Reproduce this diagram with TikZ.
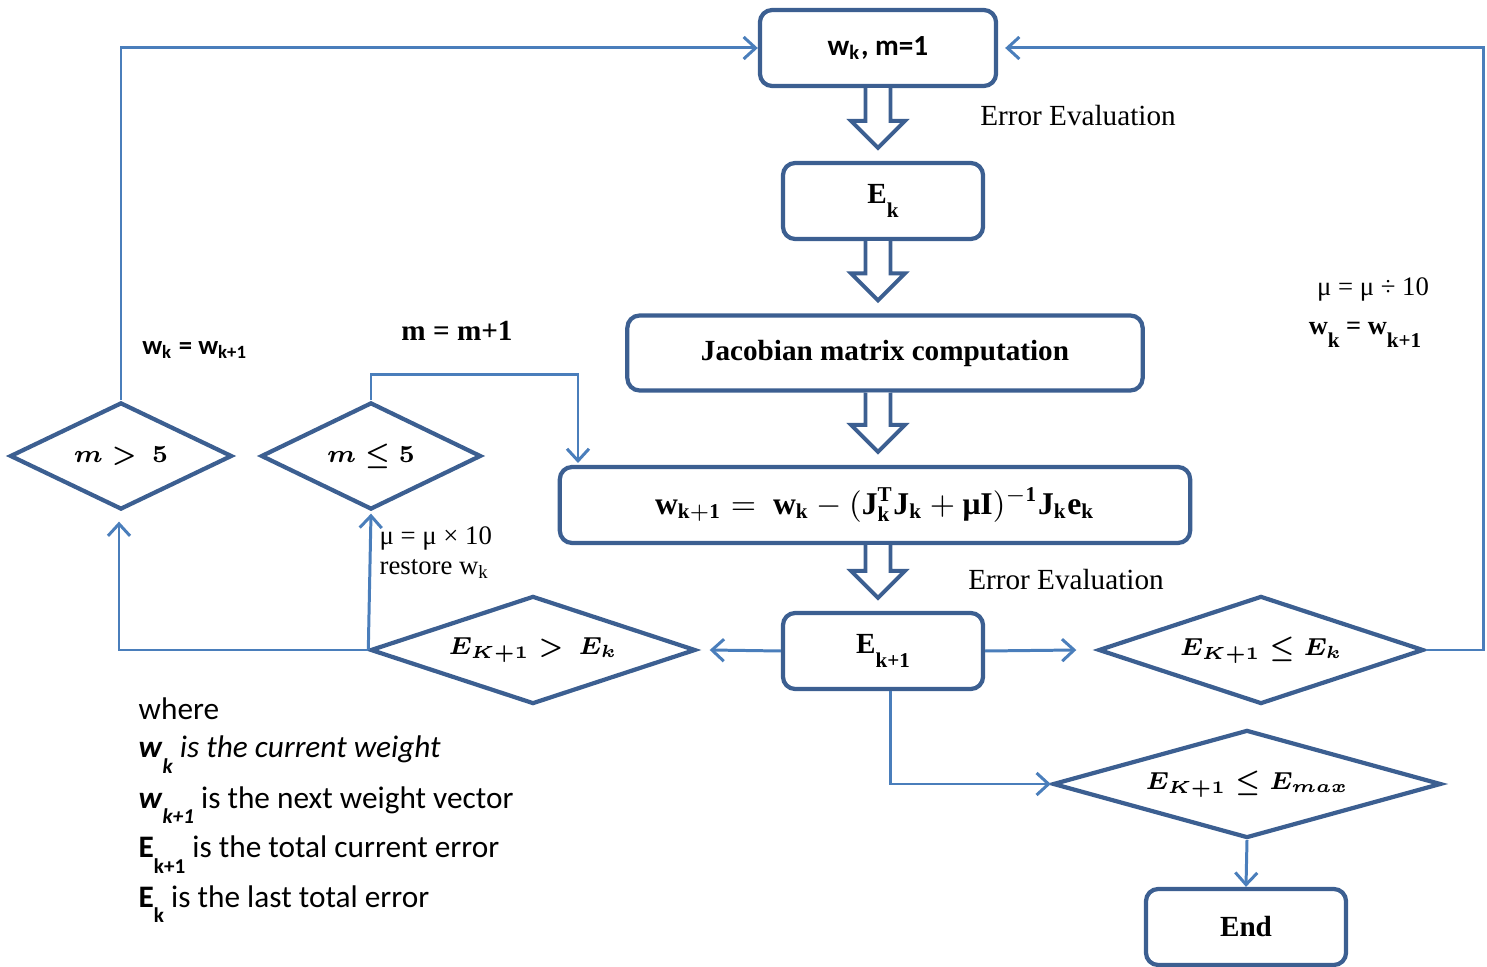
\documentclass[tikz,border=0pt]{standalone}
\usepackage{fontspec}
\setmainfont{Liberation Serif}
\newfontfamily\calibri{Carlito}
\usetikzlibrary{shapes.geometric, positioning, arrows.meta, calc}
\definecolor{boxblue}{RGB}{60,95,145}
\definecolor{linkblue}{RGB}{74,126,187}
\newcommand{\dsub}[1]{\raisebox{-0.5em}{\fontsize{6}{7}\selectfont #1}}
\tikzset{
    stepbox/.style = {draw=boxblue, line width=1.2pt, rounded corners=3.5pt, fill=white,
        minimum height=0.76cm, inner sep=0pt, font=\fontsize{8.3}{10}\selectfont\bfseries},
    decision/.style = {diamond, draw=boxblue, line width=1.2pt, inner sep=0pt,
        font=\fontsize{7.2}{9}\selectfont\boldmath},
    link/.style = {draw=linkblue, line width=0.85pt, -{Straight Barb[length=1.2mm, width=2.2mm]}},
    blockarr/.style = {draw=boxblue, line width=1.1pt, fill=white},
    note/.style = {inner sep=0pt, font=\fontsize{8.3}{10}\selectfont},
    legend/.style = {inner sep=0pt, anchor=base west, font=\calibri\fontsize{8.9}{10}\selectfont},
}

\begin{document}
\begin{tikzpicture}[x=0.01cm, y=-0.01cm]
    \useasboundingbox (0,0) rectangle (1487,967);

    % main column
    \node[stepbox, minimum width=2.36cm, font=\calibri\fontsize{8.3}{10}\selectfont\bfseries] (init) at (878,48) {w\textsubscript{k}, m=1};
    \node[stepbox, minimum width=2.00cm] (ek) at (883,201) {E\dsub{k}};
    \node[stepbox, minimum width=5.15cm, minimum height=0.75cm] (jac) at (885,353) {Jacobian matrix computation};
    \node[stepbox, minimum width=6.30cm, font=\fontsize{9}{11}\selectfont] (upd) at (875,505)
        {$\mathbf{w}_{\mathbf{k+1}} = \ \mathbf{w}_{\mathbf{k}} - (\mathbf{J}_{\mathbf{k}}^{\mathbf{T}}\mathbf{J}_{\mathbf{k}} + \mbox{\bfseries μ}\mathbf{I})^{-\mathbf{1}}\mathbf{J}_{\mathbf{k}}\mathbf{e}_{\mathbf{k}}$};
    \node[stepbox, minimum width=2.00cm] (ekn) at (883,651) {E\dsub{k+1}};
    \node[stepbox, minimum width=2.00cm] (end) at (1246,927) {End};

    % decisions
    \node[decision, aspect=2.07, minimum width=2.22cm, minimum height=1.07cm] (mgt) at (121,456) {$m >\ 5$};
    \node[decision, aspect=2.05, minimum width=2.20cm, minimum height=1.07cm] (mle) at (371,456) {$m \leq 5$};
    \node[decision, aspect=3.0, minimum width=3.25cm, minimum height=1.08cm] (egt) at (533,650) {$E_{K+1} >\ E_k$};
    \node[decision, aspect=3.0, minimum width=3.25cm, minimum height=1.08cm] (ele) at (1261,650) {$E_{K+1} \leq E_k$};
    \node[decision, aspect=3.6, minimum width=3.88cm, minimum height=1.08cm] (emax) at (1247,784) {$E_{K+1} \leq E_{max}$};

    % hollow arrows down the column
    \coordinate (ax) at (878,0);
    \foreach \a/\b in {init/ek, ek/jac, jac/upd, upd/ekn}
        \draw[blockarr] ($(\a.south -| ax)+(-12.5,0)$) -- ($(\b.north -| ax)+(-12.5,-40)$)
            -- ($(\b.north -| ax)+(-27,-40)$) -- ($(\b.north -| ax)+(0,-13)$)
            -- ($(\b.north -| ax)+(27,-40)$) -- ($(\b.north -| ax)+(12.5,-40)$)
            -- ($(\a.south -| ax)+(12.5,0)$);

    % connectors
    \coordinate (rc) at (1483,650);
    \coordinate (updin) at (578,463);
    \draw[link] (mgt.north) |- (init.west);
    \draw[link] (ele.east) -- (rc) |- ($(init.east)+(7,0)$);
    \draw[link] (mle.north) -- ++(0,-26) -| (updin);
    \draw[link] (egt.west) -| ($(mgt.south)+(-2,10)$);
    \draw[link] (egt.west) -- ($(mle.south)+(0,2)$);
    \draw[link] (ekn.west) -- ($(egt.east)+(12,0)$);
    \draw[link] (ekn.east) -- ($(ele.west)+(-20,0)$);
    \draw[link] ($(ekn.south)+(7,0)$) |- (emax.west);
    \draw[link] (emax.south) -- (end.north);

    % labels
    \node[note] (ev1) at (1078,116) {Error Evaluation};
    \node[note] (ev2) at (1066,580) {Error Evaluation};
    \node[note, font=\fontsize{8.3}{10}\selectfont\bfseries] (mplus) at (457,331) {m = m+1};
    \node[note, font=\calibri\fontsize{7.6}{9}\selectfont\bfseries] (wleft) at (195,350) {w\textsubscript{k} = w\textsubscript{k+1}};
    \node[note, font=\fontsize{7.6}{9}\selectfont] (mudiv) at (1373,289) {μ = μ ÷ 10};
    \node[note, font=\fontsize{7.5}{9}\selectfont\bfseries] (wright) at (1365,335) {w\dsub{k} = w\dsub{k+1}};
    \node[note, anchor=west, font=\fontsize{7.6}{9}\selectfont] (mumul) at (379,538) {μ = μ × 10};
    \node[note, anchor=west, font=\fontsize{7.6}{9}\selectfont] (restore) at (379,569) {restore w\textsubscript{k}};

    % legend
    \node[legend] (l1) at (138,720) {where};
    \node[legend] (l2) at (138,758) {\textbf{\textit{w}}\dsub{\bfseries\itshape k} \textit{is the current weight}};
    \node[legend] (l3) at (138,808) {\textbf{\textit{w}}\dsub{\bfseries\itshape k+1} is the next weight vector};
    \node[legend] (l4) at (138,858) {\textbf{E}\dsub{\bfseries k+1} is the total current error};
    \node[legend] (l5) at (138,907) {\textbf{E}\dsub{\bfseries k} is the last total error};
\end{tikzpicture}
\end{document}
